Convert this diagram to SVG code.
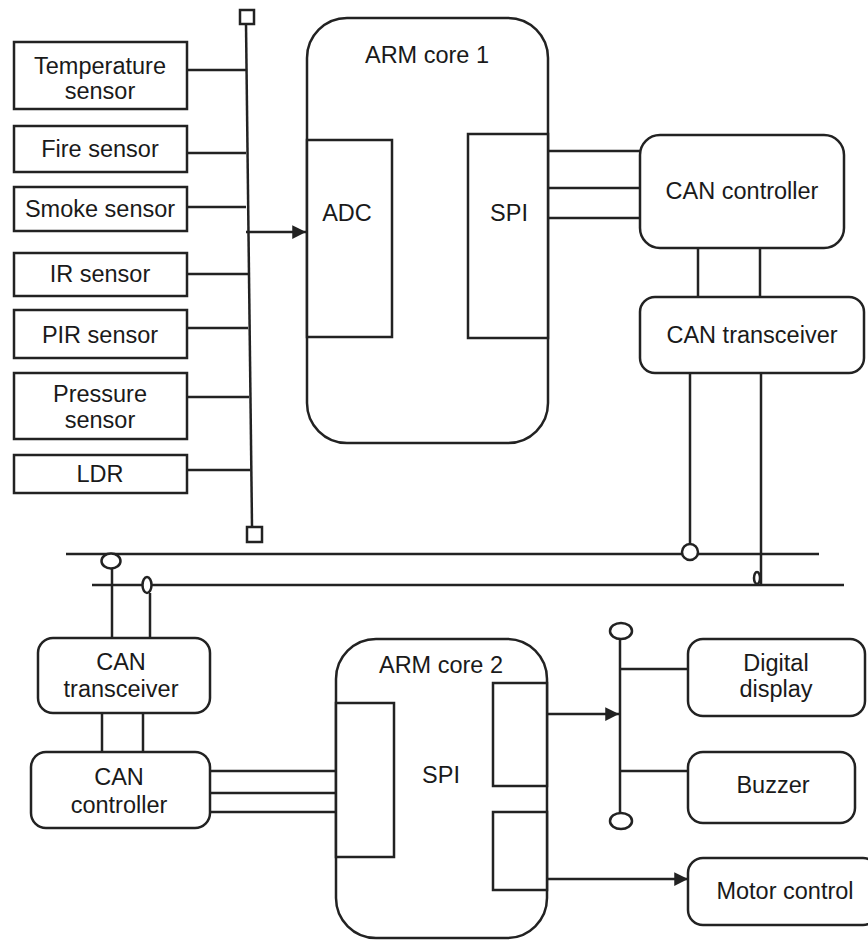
<svg xmlns="http://www.w3.org/2000/svg" width="868" height="940" viewBox="0 0 868 940">
<style>
.b{fill:#fff;stroke:#222;stroke-width:2.5}
.l{fill:none;stroke:#222;stroke-width:2.5}
.t{font-family:"Liberation Sans",Arial,sans-serif;font-size:23.5px;fill:#1a1a1a;text-anchor:middle}
</style>
<defs>
<marker id="ah" viewBox="0 0 10 10" refX="10" refY="5" markerWidth="5.5" markerHeight="5.5" markerUnits="strokeWidth" orient="auto">
<path d="M0,0 L10,5 L0,10 Z" fill="#222"/>
</marker>
</defs>
<rect width="868" height="940" fill="#fff"/>
<g id="connectors">
<line class="l" x1="187" y1="70" x2="246" y2="70"/>
<line class="l" x1="187" y1="153" x2="246" y2="153"/>
<line class="l" x1="187" y1="207" x2="246" y2="207"/>
<line class="l" x1="187" y1="274" x2="248" y2="274"/>
<line class="l" x1="187" y1="328" x2="248" y2="328"/>
<line class="l" x1="187" y1="397" x2="249" y2="397"/>
<line class="l" x1="187" y1="470" x2="250" y2="470"/>
<line class="l" x1="246" y1="24" x2="252" y2="526"/>
<rect class="b" x="240" y="10" width="14" height="14"/>
<rect class="b" x="247" y="527" width="15" height="15"/>
<line class="l" x1="246" y1="232" x2="306" y2="232" marker-end="url(#ah)"/>
<line class="l" x1="548" y1="151" x2="640" y2="151"/>
<line class="l" x1="548" y1="188" x2="640" y2="188"/>
<line class="l" x1="548" y1="218" x2="640" y2="218"/>
<line class="l" x1="698" y1="248" x2="698" y2="297"/>
<line class="l" x1="760" y1="248" x2="760" y2="297"/>
<line class="l" x1="66" y1="554" x2="819" y2="554"/>
<line class="l" x1="92" y1="585" x2="844" y2="585"/>
<line class="l" x1="690" y1="373" x2="690" y2="545"/>
<circle class="b" cx="690" cy="552" r="8"/>
<line class="l" x1="761" y1="373" x2="761" y2="585"/>
<ellipse class="b" cx="757" cy="578" rx="3" ry="6"/>
<ellipse class="b" cx="111" cy="561" rx="9.5" ry="7.5"/>
<line class="l" x1="112" y1="569" x2="112" y2="638"/>
<ellipse class="b" cx="147" cy="585" rx="4.5" ry="8"/>
<line class="l" x1="150" y1="593" x2="150" y2="638"/>
<line class="l" x1="102" y1="713" x2="102" y2="752"/>
<line class="l" x1="143" y1="713" x2="143" y2="752"/>
<line class="l" x1="210" y1="771" x2="336" y2="771"/>
<line class="l" x1="210" y1="793" x2="336" y2="793"/>
<line class="l" x1="210" y1="812" x2="336" y2="812"/>
<line class="l" x1="547" y1="714" x2="619" y2="714" marker-end="url(#ah)"/>
<line class="l" x1="620" y1="639" x2="620" y2="813"/>
<ellipse class="b" cx="621" cy="631" rx="11" ry="8"/>
<ellipse class="b" cx="621" cy="821" rx="11" ry="8"/>
<line class="l" x1="620" y1="669" x2="688" y2="669"/>
<line class="l" x1="620" y1="771" x2="688" y2="771"/>
<line class="l" x1="547" y1="879" x2="688" y2="879" marker-end="url(#ah)"/>
</g>
<g id="temperature-sensor"><rect class="b" x="14" y="42" width="173" height="67"/><text class="t" x="100" y="74">Temperature</text><text class="t" x="100" y="99">sensor</text></g>
<g id="fire-sensor"><rect class="b" x="14" y="126" width="173" height="46"/><text class="t" x="100" y="157">Fire sensor</text></g>
<g id="smoke-sensor"><rect class="b" x="14" y="187" width="173" height="44"/><text class="t" x="100" y="217">Smoke sensor</text></g>
<g id="ir-sensor"><rect class="b" x="14" y="253" width="173" height="43"/><text class="t" x="100" y="282">IR sensor</text></g>
<g id="pir-sensor"><rect class="b" x="14" y="310" width="173" height="48"/><text class="t" x="100" y="343">PIR sensor</text></g>
<g id="pressure-sensor"><rect class="b" x="14" y="373" width="173" height="66"/><text class="t" x="100" y="402">Pressure</text><text class="t" x="100" y="428">sensor</text></g>
<g id="ldr"><rect class="b" x="14" y="455" width="173" height="38"/><text class="t" x="100" y="482">LDR</text></g>
<g id="arm-core-1"><rect class="b" x="307" y="18" width="241" height="425" rx="40"/><text class="t" x="427" y="63">ARM core 1</text>
<g id="adc"><rect class="b" x="307" y="140" width="85" height="197"/><text class="t" x="347" y="221">ADC</text></g>
<g id="spi-1"><rect class="b" x="468" y="134" width="80" height="204"/><text class="t" x="509" y="221">SPI</text></g></g>
<g id="can-controller-1"><rect class="b" x="640" y="135" width="204" height="113" rx="20"/><text class="t" x="742" y="199">CAN controller</text></g>
<g id="can-transceiver-1"><rect class="b" x="640" y="297" width="224" height="76" rx="15"/><text class="t" x="752" y="343">CAN transceiver</text></g>
<g id="can-transceiver-2"><rect class="b" x="38" y="638" width="172" height="75" rx="15"/><text class="t" x="121" y="670">CAN</text><text class="t" x="121" y="697">transceiver</text></g>
<g id="can-controller-2"><rect class="b" x="31" y="752" width="179" height="76" rx="15"/><text class="t" x="119" y="785">CAN</text><text class="t" x="119" y="813">controller</text></g>
<g id="arm-core-2"><rect class="b" x="336" y="639" width="211" height="299" rx="40"/><text class="t" x="441" y="673">ARM core 2</text>
<g id="spi-2"><rect class="b" x="336" y="703" width="58" height="154"/><text class="t" x="441" y="783">SPI</text></g>
<rect class="b" x="493" y="683" width="54" height="103"/>
<rect class="b" x="493" y="812" width="54" height="78"/></g>
<g id="digital-display"><rect class="b" x="688" y="639" width="177" height="77" rx="15"/><text class="t" x="776" y="671">Digital</text><text class="t" x="776" y="697">display</text></g>
<g id="buzzer"><rect class="b" x="688" y="752" width="167" height="71" rx="15"/><text class="t" x="773" y="793">Buzzer</text></g>
<g id="motor-control"><rect class="b" x="688" y="858" width="190" height="67" rx="15"/><text class="t" x="785" y="899">Motor control</text></g>
</svg>
